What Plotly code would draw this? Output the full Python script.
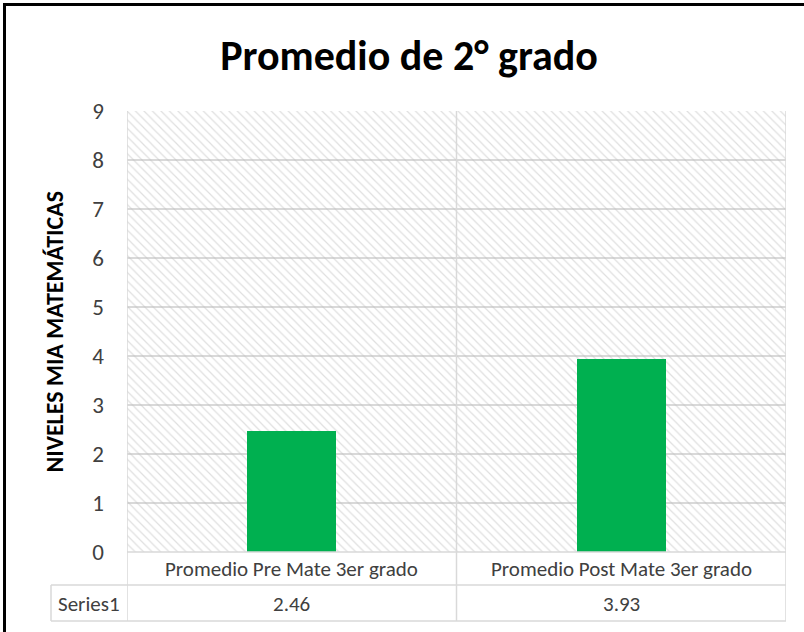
import plotly.graph_objects as go

# ---- data ----
CATEGORIES = ["Promedio Pre Mate 3er grado", "Promedio Post Mate 3er grado"]
SERIES_NAME = "Series1"
VALUES = [2.46, 3.93]
VALUE_LABELS = ["2.46", "3.93"]
Y_TICKS = [0, 1, 2, 3, 4, 5, 6, 7, 8, 9]
Y_MAX = 9
TITLE = "Promedio de 2° grado"
Y_TITLE = "NIVELES MIA MATEMÁTICAS"

# ---- layout geometry (pixels) ----
W, H = 804, 632
PL, PR, PT, PB = 127, 786, 111, 552   # plot area edges
ROW1_BOTTOM = 585
ROW2_BOTTOM = 621
SERIES_CELL_LEFT = 51
FONT = "Carlito, Calibri, Liberation Sans, Arial"
GRID = "#d9d9d9"
TXT = "#404040"

pw, ph = PR - PL, PB - PT
def px(x):
    return (x - PL) / pw
def py(y):
    return (PB - y) / ph

fig = go.Figure()

# hatched plot-area background (one full-width band per category)
fig.add_trace(go.Bar(
    x=CATEGORIES, y=[Y_MAX] * len(CATEGORIES), width=1,
    marker=dict(color="rgba(0,0,0,0)", line=dict(width=0),
                pattern=dict(shape="\\", fgcolor="#c0c0c0", bgcolor="rgba(0,0,0,0)",
                             size=6, solidity=0.2)),
    hoverinfo="skip", showlegend=False,
))

# data bars
fig.add_trace(go.Bar(
    x=CATEGORIES, y=VALUES, name=SERIES_NAME, width=0.27,
    marker=dict(color="#00b050", line=dict(width=0)),
    showlegend=False,
))

shapes = []
line = dict(color=GRID, width=1.5)
# vertical separators at category boundaries (through plot + table)
for b in [-0.5, 0.5, 1.5]:
    shapes.append(dict(type="line", xref="x", yref="paper", x0=b, x1=b,
                       y0=py(ROW2_BOTTOM), y1=1, line=line))
# table horizontal lines
for yy in [ROW1_BOTTOM, ROW2_BOTTOM]:
    shapes.append(dict(type="line", xref="paper", yref="paper",
                       x0=px(SERIES_CELL_LEFT), x1=1, y0=py(yy), y1=py(yy), line=line))
shapes.append(dict(type="line", xref="paper", yref="paper",
                   x0=0, x1=1, y0=0, y1=0, line=line))
shapes.append(dict(type="line", xref="paper", yref="paper",
                   x0=px(SERIES_CELL_LEFT), x1=px(SERIES_CELL_LEFT),
                   y0=py(ROW1_BOTTOM), y1=py(ROW2_BOTTOM), line=line))
# outer black border (top and left)
shapes.append(dict(type="line", xref="paper", yref="paper",
                   x0=px(3.5), x1=px(W + 5), y0=py(4.5), y1=py(4.5),
                   line=dict(color="black", width=3)))
shapes.append(dict(type="line", xref="paper", yref="paper",
                   x0=px(4.5), x1=px(4.5), y0=py(3), y1=py(H + 5),
                   line=dict(color="black", width=3)))

annotations = []
row1_mid = py(569)
row2_mid = py(603.5)
cell_font = dict(family=FONT, size=21, color=TXT)
for cat, val in zip(CATEGORIES, VALUE_LABELS):
    annotations.append(dict(x=cat, y=row1_mid, xref="x", yref="paper", text=cat,
                            xanchor="center", yanchor="middle", showarrow=False, font=cell_font))
    annotations.append(dict(x=cat, y=row2_mid, xref="x", yref="paper", text=val,
                            xanchor="center", yanchor="middle", showarrow=False, font=cell_font))
annotations.append(dict(x=px((SERIES_CELL_LEFT + PL) / 2), y=row2_mid, xref="paper", yref="paper",
                        text=SERIES_NAME, xanchor="center", yanchor="middle", showarrow=False,
                        font=cell_font))
annotations.append(dict(x=px(54), y=0.5, xref="paper", yref="paper", text=Y_TITLE,
                        textangle=-90, xanchor="center", yanchor="middle", showarrow=False,
                        font=dict(family=FONT, size=24, color="#000000", weight="bold")))

fig.update_layout(
    width=W, height=H,
    margin=dict(l=PL, r=W - PR, t=PT, b=H - PB),
    paper_bgcolor="white", plot_bgcolor="white",
    barmode="overlay", bargap=0,
    title=dict(text=TITLE, x=409 / W, xanchor="center", y=1 - 55 / H, yanchor="middle",
               font=dict(family=FONT, size=42, color="#000000", weight="bold")),
    xaxis=dict(showticklabels=False, showgrid=False, zeroline=False, showline=False,
               range=[-0.5, 1.5], fixedrange=True),
    yaxis=dict(range=[0, Y_MAX], tickvals=Y_TICKS, showgrid=True, gridcolor=GRID, gridwidth=1.5,
               zeroline=False, showline=False, ticks="", ticklabelstandoff=22,
               tickfont=dict(family=FONT, size=23, color=TXT), fixedrange=True),
    shapes=shapes, annotations=annotations,
)

fig.write_html("out.html", config={"displayModeBar": False},
               post_script="document.body.style.margin='0';")
